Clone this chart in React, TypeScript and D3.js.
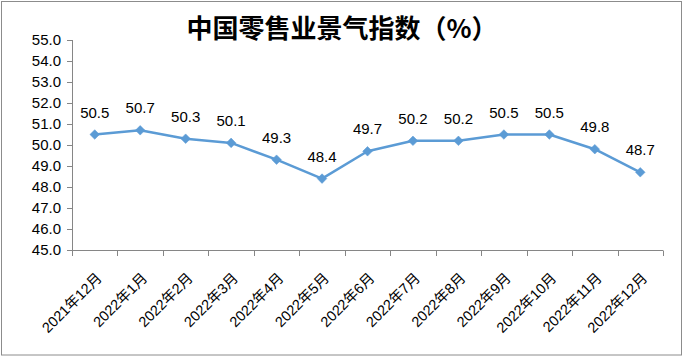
import React from "react";
import * as d3 from "d3";

const categories = [
  "2021年12月", "2022年1月", "2022年2月", "2022年3月", "2022年4月", "2022年5月",
  "2022年6月", "2022年7月", "2022年8月", "2022年9月", "2022年10月", "2022年11月", "2022年12月",
];
const values = [50.5, 50.7, 50.3, 50.1, 49.3, 48.4, 49.7, 50.2, 50.2, 50.5, 50.5, 49.8, 48.7];
const yTicks = [45, 46, 47, 48, 49, 50, 51, 52, 53, 54, 55];
const title = "中国零售业景气指数（%）";

const W = 685, H = 357;
const axisColor = "#868686";
const lineColor = "#5B9BD5";
const font = "'Liberation Sans', 'Noto Sans CJK SC', sans-serif";

export default function App() {
  const x = d3.scaleBand<string>().domain(categories).range([72, 663]).padding(0);
  const y = d3.scaleLinear().domain([45, 55]).range([250, 40]);
  const cx = (c: string) => (x(c) as number) + x.bandwidth() / 2;
  const line = d3.line<number>().x((_, i) => cx(categories[i])).y((v) => y(v));
  const fmt = d3.format(".1f");
  const boundaries = categories.map((c) => x(c) as number).concat([663]);
  const diamond = d3.symbol().type(d3.symbolSquare).size(46)();

  return (
    <svg width={W} height={H} style={{ position: "fixed", left: 0, top: 0, background: "#fff" }}>
      <rect x={1.5} y={1.5} width={680} height={353.5} fill="#fff" stroke="#8c8c8c" strokeWidth={1} />
      <text x={342} y={38} textAnchor="middle" fontFamily="'Noto Sans CJK SC', sans-serif" fontWeight="bold" fontSize={26} fill="#000">
        {title}
      </text>
      {/* y axis */}
      <line x1={72.5} x2={72.5} y1={y(55)} y2={y(45)} stroke={axisColor} />
      {yTicks.map((t) => (
        <g key={t}>
          <line x1={67} x2={72.5} y1={Math.round(y(t)) + 0.5} y2={Math.round(y(t)) + 0.5} stroke={axisColor} />
          <text x={61} y={y(t)} dy="0.36em" textAnchor="end" fontFamily={font} fontSize={15} fill="#000">
            {fmt(t)}
          </text>
        </g>
      ))}
      {/* x axis */}
      <line x1={72} x2={663} y1={250.5} y2={250.5} stroke={axisColor} />
      {boundaries.map((b, i) => (
        <line key={i} x1={Math.round(b) + 0.5} x2={Math.round(b) + 0.5} y1={250.5} y2={256} stroke={axisColor} />
      ))}
      {categories.map((c) => {
        const ax = cx(c) + 8;
        const ay = 279;
        return (
          <text key={c} x={ax} y={ay} transform={`rotate(-45 ${ax} ${ay})`} textAnchor="end" fontFamily={font} fontSize={14.5} fill="#000">
            {c}
          </text>
        );
      })}
      {/* line */}
      <path d={line(values) || ""} fill="none" stroke={lineColor} strokeWidth={2.5} strokeLinejoin="round" />
      {values.map((v, i) => (
        <path key={i} d={diamond || ""} transform={`translate(${cx(categories[i])},${y(v)}) rotate(45)`} fill={lineColor} stroke={lineColor} strokeWidth={0.5} />
      ))}
      {values.map((v, i) => (
        <text key={"l" + i} x={cx(categories[i])} y={y(v) - 17} textAnchor="middle" fontFamily={font} fontSize={15} fill="#000">
          {fmt(v)}
        </text>
      ))}
    </svg>
  );
}
